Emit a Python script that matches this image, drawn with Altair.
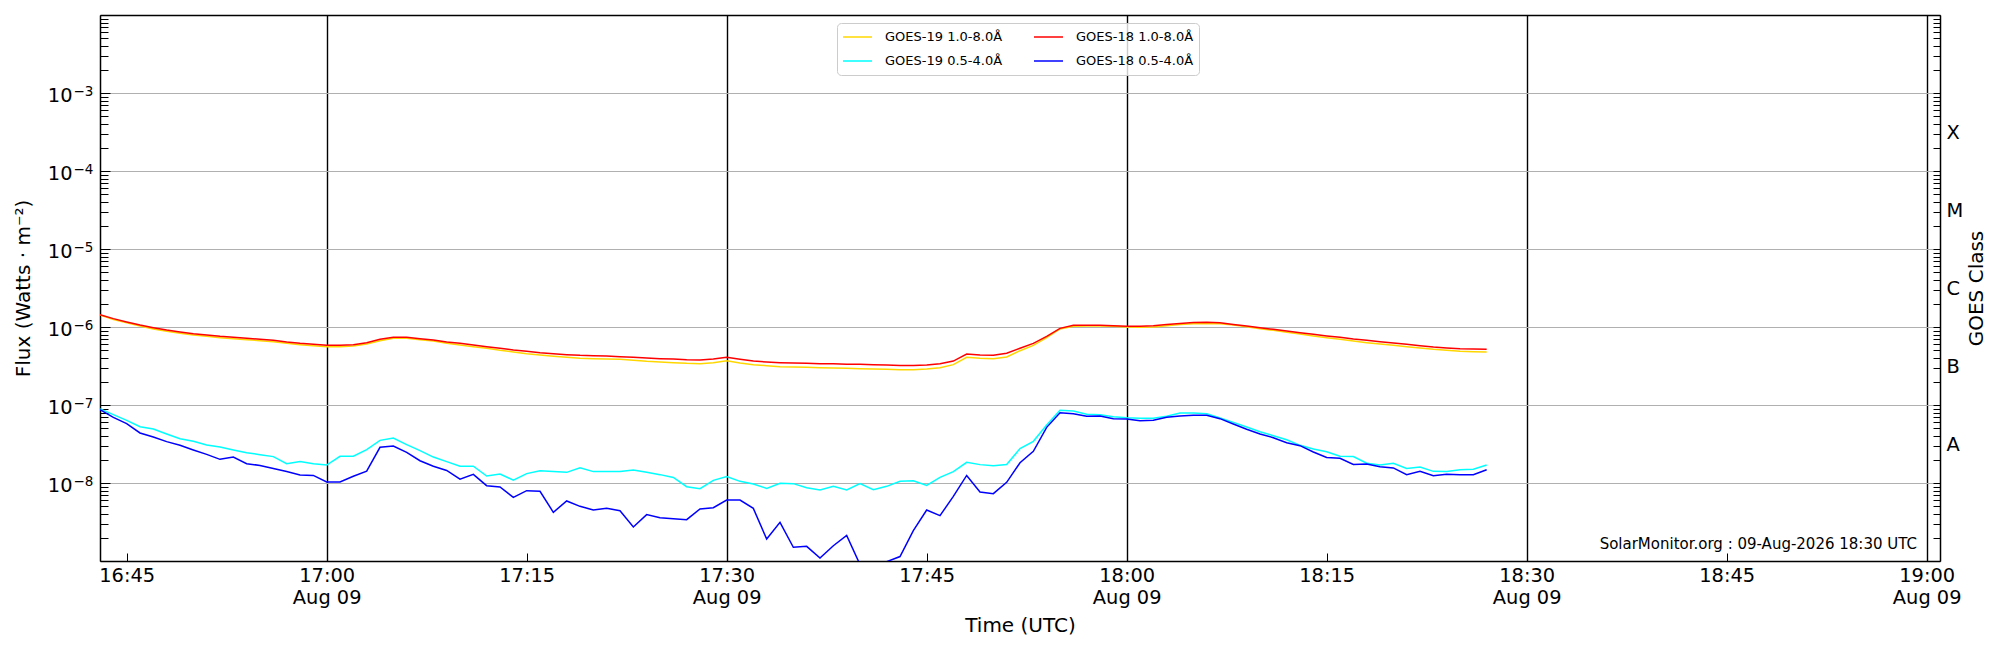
import json
import altair as alt
import pandas as pd

# ---------------- data (1-minute cadence, 16:43 .. 18:27 UTC) ----------------
times = pd.date_range("2026-08-09 16:43:00", periods=105, freq="min").strftime("%Y-%m-%dT%H:%M:%SZ").tolist()

goes19_long = [
    1.43e-6, 1.25e-6, 1.13e-6, 1.03e-6, 9.43e-7, 8.80e-7, 8.29e-7, 7.90e-7, 7.59e-7, 7.30e-7,
    7.08e-7, 6.88e-7, 6.68e-7, 6.49e-7, 6.17e-7, 5.94e-7, 5.76e-7, 5.60e-7, 5.60e-7, 5.71e-7,
    6.05e-7, 6.68e-7, 7.16e-7, 7.16e-7, 6.88e-7, 6.61e-7, 6.17e-7, 5.88e-7, 5.60e-7, 5.33e-7,
    5.02e-7, 4.78e-7, 4.55e-7, 4.38e-7, 4.21e-7, 4.08e-7, 3.97e-7, 3.93e-7, 3.89e-7, 3.85e-7,
    3.74e-7, 3.63e-7, 3.56e-7, 3.49e-7, 3.42e-7, 3.39e-7, 3.49e-7, 3.70e-7, 3.45e-7, 3.29e-7,
    3.19e-7, 3.10e-7, 3.07e-7, 3.04e-7, 3.01e-7, 2.98e-7, 2.95e-7, 2.92e-7, 2.89e-7, 2.87e-7,
    2.84e-7, 2.84e-7, 2.89e-7, 3.01e-7, 3.29e-7, 4.08e-7, 3.97e-7, 3.93e-7, 4.12e-7, 4.97e-7,
    5.82e-7, 7.30e-7, 9.43e-7, 1.02e-6, 1.03e-6, 1.03e-6, 1.02e-6, 1.00e-6, 9.90e-7, 1.00e-6,
    1.04e-6, 1.08e-6, 1.10e-6, 1.11e-6, 1.10e-6, 1.06e-6, 1.01e-6, 9.52e-7, 9.06e-7, 8.54e-7,
    8.13e-7, 7.67e-7, 7.30e-7, 6.95e-7, 6.61e-7, 6.30e-7, 6.05e-7, 5.82e-7, 5.60e-7, 5.38e-7,
    5.17e-7, 5.02e-7, 4.88e-7, 4.83e-7, 4.78e-7,
]

goes18_long = [
    1.44e-6, 1.28e-6, 1.16e-6, 1.06e-6, 9.81e-7, 9.15e-7, 8.63e-7, 8.21e-7, 7.90e-7, 7.59e-7,
    7.37e-7, 7.16e-7, 6.95e-7, 6.75e-7, 6.42e-7, 6.17e-7, 5.99e-7, 5.82e-7, 5.82e-7, 5.94e-7,
    6.30e-7, 6.95e-7, 7.37e-7, 7.37e-7, 7.08e-7, 6.81e-7, 6.42e-7, 6.17e-7, 5.88e-7, 5.60e-7,
    5.33e-7, 5.07e-7, 4.88e-7, 4.69e-7, 4.55e-7, 4.42e-7, 4.33e-7, 4.29e-7, 4.25e-7, 4.17e-7,
    4.08e-7, 4.00e-7, 3.93e-7, 3.89e-7, 3.81e-7, 3.77e-7, 3.89e-7, 4.08e-7, 3.85e-7, 3.66e-7,
    3.56e-7, 3.49e-7, 3.45e-7, 3.42e-7, 3.39e-7, 3.39e-7, 3.32e-7, 3.32e-7, 3.29e-7, 3.26e-7,
    3.22e-7, 3.22e-7, 3.26e-7, 3.39e-7, 3.66e-7, 4.51e-7, 4.38e-7, 4.33e-7, 4.60e-7, 5.33e-7,
    6.17e-7, 7.59e-7, 9.61e-7, 1.05e-6, 1.05e-6, 1.05e-6, 1.04e-6, 1.02e-6, 1.02e-6, 1.04e-6,
    1.08e-6, 1.11e-6, 1.14e-6, 1.15e-6, 1.13e-6, 1.08e-6, 1.03e-6, 9.81e-7, 9.33e-7, 8.89e-7,
    8.46e-7, 8.05e-7, 7.67e-7, 7.37e-7, 7.02e-7, 6.75e-7, 6.49e-7, 6.24e-7, 5.99e-7, 5.76e-7,
    5.54e-7, 5.38e-7, 5.27e-7, 5.22e-7, 5.17e-7,
]

goes19_short = [
    8.89e-8, 7.52e-8, 6.36e-8, 5.27e-8, 4.92e-8, 4.25e-8, 3.70e-8, 3.42e-8, 3.07e-8, 2.89e-8,
    2.65e-8, 2.45e-8, 2.31e-8, 2.18e-8, 1.77e-8, 1.88e-8, 1.77e-8, 1.70e-8, 2.20e-8, 2.20e-8,
    2.68e-8, 3.52e-8, 3.77e-8, 3.10e-8, 2.60e-8, 2.15e-8, 1.88e-8, 1.64e-8, 1.64e-8, 1.23e-8,
    1.30e-8, 1.09e-8, 1.32e-8, 1.44e-8, 1.40e-8, 1.37e-8, 1.57e-8, 1.40e-8, 1.40e-8, 1.40e-8,
    1.47e-8, 1.37e-8, 1.28e-8, 1.18e-8, 8.97e-9, 8.46e-9, 1.08e-8, 1.21e-8, 1.05e-8, 9.71e-9,
    8.54e-9, 9.90e-9, 9.81e-9, 8.71e-9, 8.13e-9, 9.06e-9, 8.13e-9, 9.81e-9, 8.21e-9, 9.06e-9,
    1.05e-8, 1.07e-8, 9.33e-9, 1.18e-8, 1.40e-8, 1.84e-8, 1.72e-8, 1.67e-8, 1.73e-8, 2.76e-8,
    3.42e-8, 5.54e-8, 8.54e-8, 8.38e-8, 7.59e-8, 7.52e-8, 7.08e-8, 6.88e-8, 6.75e-8, 6.75e-8,
    7.16e-8, 7.90e-8, 7.90e-8, 7.74e-8, 6.81e-8, 5.99e-8, 5.22e-8, 4.55e-8, 4.04e-8, 3.59e-8,
    3.04e-8, 2.73e-8, 2.52e-8, 2.20e-8, 2.18e-8, 1.79e-8, 1.70e-8, 1.79e-8, 1.54e-8, 1.60e-8,
    1.41e-8, 1.40e-8, 1.48e-8, 1.50e-8, 1.70e-8,
]

goes18_short = [
    8.71e-8, 6.95e-8, 5.76e-8, 4.38e-8, 3.89e-8, 3.39e-8, 3.04e-8, 2.65e-8, 2.33e-8, 2.01e-8,
    2.15e-8, 1.77e-8, 1.68e-8, 1.53e-8, 1.40e-8, 1.27e-8, 1.25e-8, 1.03e-8, 1.03e-8, 1.22e-8,
    1.42e-8, 2.87e-8, 2.98e-8, 2.47e-8, 1.93e-8, 1.64e-8, 1.45e-8, 1.12e-8, 1.29e-8, 9.24e-9,
    8.89e-9, 6.55e-9, 7.97e-9, 7.82e-9, 4.21e-9, 5.88e-9, 5.02e-9, 4.51e-9, 4.73e-9, 4.42e-9,
    2.73e-9, 3.93e-9, 3.59e-9, 3.49e-9, 3.39e-9, 4.64e-9, 4.83e-9, 6.05e-9, 6.05e-9, 4.73e-9,
    1.91e-9, 3.13e-9, 1.50e-9, 1.54e-9, 1.09e-9, 1.57e-9, 2.13e-9, 9.0e-10, 8.5e-10, 9.8e-10,
    1.14e-9, 2.45e-9, 4.51e-9, 3.81e-9, 6.75e-9, 1.25e-8, 7.67e-9, 7.30e-9, 1.02e-8, 1.82e-8,
    2.55e-8, 5.17e-8, 7.97e-8, 7.74e-8, 7.16e-8, 7.23e-8, 6.68e-8, 6.61e-8, 6.30e-8, 6.36e-8,
    6.95e-8, 7.23e-8, 7.37e-8, 7.37e-8, 6.68e-8, 5.71e-8, 4.88e-8, 4.25e-8, 3.81e-8, 3.29e-8,
    3.01e-8, 2.50e-8, 2.13e-8, 2.07e-8, 1.73e-8, 1.75e-8, 1.62e-8, 1.56e-8, 1.28e-8, 1.41e-8,
    1.24e-8, 1.29e-8, 1.28e-8, 1.28e-8, 1.48e-8,
]

# legend order (row-major, 2 columns) and colours
series_names = ["GOES-19 1.0-8.0Å", "GOES-19 0.5-4.0Å", "GOES-18 1.0-8.0Å", "GOES-18 0.5-4.0Å"]
series_colors = ["#FFD700", "#00FFFF", "#FF0000", "#0000FF"]
series_data = {
    "GOES-19 1.0-8.0Å": goes19_long,
    "GOES-18 1.0-8.0Å": goes18_long,
    "GOES-19 0.5-4.0Å": goes19_short,
    "GOES-18 0.5-4.0Å": goes18_short,
}
draw_order = ["GOES-19 1.0-8.0Å", "GOES-18 1.0-8.0Å", "GOES-19 0.5-4.0Å", "GOES-18 0.5-4.0Å"]

# tick values / labels
x_tick_times = ["16:45", "17:00", "17:15", "17:30", "17:45", "18:00", "18:15", "18:30", "18:45", "19:00"]
x_tick_dates = ["", "Aug 09", "", "Aug 09", "", "Aug 09", "", "Aug 09", "", "Aug 09"]
flux_tick_values = [1e-8, 1e-7, 1e-6, 1e-5, 1e-4, 1e-3]
flux_tick_base = "10"
flux_tick_exponents = ["−8", "−7", "−6", "−5", "−4", "−3"]
class_labels = ["A", "B", "C", "M", "X"]
class_values = [10 ** -7.5, 10 ** -6.5, 10 ** -5.5, 10 ** -4.5, 10 ** -3.5]
note_text = "SolarMonitor.org : 09-Aug-2026 18:30 UTC"

# ---------------- build ----------------
rows = []
for name in draw_order:
    for t, v in zip(times, series_data[name]):
        rows.append({"time": t, "flux": v, "series": name})
df = pd.DataFrame(rows)


def ms(hhmm):
    return int(pd.Timestamp(f"2026-08-09 {hhmm}:00", tz="UTC").value // 10**6)


x_tick_values = [ms(t) for t in x_tick_times]
half_hour_values = [ms(t) for t, d in zip(x_tick_times, x_tick_dates) if d]
quarter_values = [ms(t) for t, d in zip(x_tick_times, x_tick_dates) if not d]
x_label_list = [[t, d] if d else t for t, d in zip(x_tick_times, x_tick_dates)]
x_label_expr = f"{json.dumps(x_label_list, ensure_ascii=False)}[round((datum.value - {x_tick_values[0]}) / 900000)]"
exp_label_expr = f"{json.dumps(flux_tick_exponents, ensure_ascii=False)}[round(log(datum.value) / LN10) + 8]"
class_label_expr = f"{json.dumps(class_labels)}[floor(log(datum.value) / LN10) + 8]"

decades = [10.0 ** e for e in range(-9, -1)]
minor_ticks = [m * 10.0 ** e for e in range(-9, -2) for m in range(2, 10)]
all_ticks = decades + minor_ticks

W, H = 1840, 546
FONT = "DejaVu Sans"
FRAME = dict(domain=True, domainColor="black", domainWidth=1.5, domainOpacity=1)

x_scale = alt.Scale(type="utc", domain=[ms("16:43"), ms("19:01")])
y_scale = alt.Scale(type="log", domain=[1e-9, 1e-2])

base = alt.Chart(df)
hidden = base.mark_line(opacity=0)

# labels + horizontal grid (+ bottom and left frame lines)
layer_labels = hidden.encode(
    x=alt.X("time:T", scale=x_scale, axis=alt.Axis(
        orient="bottom", values=x_tick_values, labelExpr=x_label_expr, ticks=False, tickSize=0,
        grid=False, labelPadding=5, labelFontSize=19.4, labelLineHeight=22,
        labelFlush=False, labelOverlap=False, labelAlign="center",
        title="Time (UTC)", titleX=W / 2, titleY=64, titleAlign="center", titleBaseline="middle",
        titleFontSize=20, titleFontWeight="normal", **FRAME)),
    y=alt.Y("flux:Q", scale=y_scale, axis=alt.Axis(
        orient="left", values=flux_tick_values, labelExpr=f"'{flux_tick_base}'", ticks=False,
        tickSize=0, grid=True, gridColor="#b0b0b0", gridWidth=1, gridOpacity=1, labelPadding=28,
        labelFontSize=19.4, labelBaseline="alphabetic", labelOffset=8, labelOverlap=False,
        labelFlush=False,
        title="Flux (Watts · m⁻²)", titleX=-77, titleY=H / 2, titleAngle=270, titleAlign="center",
        titleBaseline="middle", titleFontSize=20, titleFontWeight="normal", **FRAME)),
)

# superscript exponents of the left labels
layer_exponents = hidden.encode(
    x=alt.X("time:T", scale=x_scale, axis=None),
    y=alt.Y("flux:Q", scale=y_scale, axis=alt.Axis(
        orient="left", values=flux_tick_values, labelExpr=exp_label_expr, ticks=False, tickSize=0,
        grid=False, domain=False, labelPadding=27, labelAlign="left", labelBaseline="alphabetic",
        labelOffset=2, labelFontSize=13.5, labelOverlap=False, labelFlush=False, title=None)),
)

# black half-hour vertical lines + left major inward ticks
layer_major = hidden.encode(
    x=alt.X("time:T", scale=x_scale, axis=alt.Axis(
        orient="bottom", values=half_hour_values, grid=True, gridColor="black", gridWidth=1.4,
        gridOpacity=1, ticks=False, labels=False, domain=False, title=None)),
    y=alt.Y("flux:Q", scale=y_scale, axis=alt.Axis(
        orient="right", offset=-W, values=decades, ticks=True, tickSize=10, tickWidth=1,
        tickColor="black", labels=False, domain=False, grid=False, title=None)),
)

# bottom inward quarter-hour ticks + left minor inward ticks
layer_minor = hidden.encode(
    x=alt.X("time:T", scale=x_scale, axis=alt.Axis(
        orient="top", offset=-H, values=quarter_values, ticks=True, tickSize=8, tickWidth=1,
        tickColor="black", labels=False, domain=False, grid=False, title=None)),
    y=alt.Y("flux:Q", scale=y_scale, axis=alt.Axis(
        orient="right", offset=-W, values=minor_ticks, ticks=True, tickSize=8, tickWidth=1,
        tickColor="black", labels=False, domain=False, grid=False, title=None)),
)

# right inward ticks (+ top frame line)
layer_right_ticks = hidden.encode(
    x=alt.X("time:T", scale=x_scale, axis=alt.Axis(
        orient="top", values=[], ticks=False, labels=False, grid=False, title=None, **FRAME)),
    y=alt.Y("flux:Q", scale=y_scale, axis=alt.Axis(
        orient="left", offset=-W, values=all_ticks, ticks=True, tickSize=7, tickWidth=1,
        tickColor="black", labels=False, domain=False, grid=False, title=None)),
)

# right GOES class labels (+ right frame line)
layer_right_labels = hidden.encode(
    x=alt.X("time:T", scale=x_scale, axis=None),
    y=alt.Y("flux:Q", scale=y_scale, axis=alt.Axis(
        orient="right", values=class_values, labelExpr=class_label_expr, ticks=False, tickSize=0,
        grid=False, labelPadding=6, labelFontSize=19.4, labelOverlap=False,
        labelFlush=False, title="GOES Class", titleX=36, titleY=H / 2, titleAngle=270,
        titleAlign="center", titleBaseline="middle", titleFontSize=20, titleFontWeight="normal",
        **FRAME)),
)

legend = alt.Legend(
    title=None, orient="none", legendX=737, legendY=8, columns=2, symbolType="stroke",
    symbolSize=841, symbolStrokeWidth=1.5, labelFontSize=13, labelFont=FONT, labelOffset=12,
    columnPadding=30, rowPadding=6, clipHeight=18, padding=5, strokeColor="#cccccc",
    fillColor="rgba(255,255,255,0.8)", cornerRadius=4, labelLimit=300, labelColor="black",
)
color = alt.Color("series:N", scale=alt.Scale(domain=series_names, range=series_colors), legend=legend)

series_layers = [
    base.transform_filter(alt.datum.series == name)
    .mark_line(strokeWidth=1.5, clip=True)
    .encode(
        x=alt.X("time:T", scale=x_scale, axis=None),
        y=alt.Y("flux:Q", scale=y_scale, axis=None),
        color=color,
    )
    for name in draw_order
]

note = alt.Chart(pd.DataFrame({"note": [note_text]})).mark_text(
    align="right", baseline="alphabetic", fontSize=15, font=FONT, color="black"
).encode(x=alt.value(1817), y=alt.value(534), text="note:N")

chart = (
    alt.layer(layer_labels, layer_exponents, layer_major, layer_minor, layer_right_ticks,
              layer_right_labels, *series_layers, note)
    .resolve_axis(x="independent", y="independent")
    .properties(width=W, height=H, padding={"left": 92, "top": 7, "right": 52, "bottom": 75},
                autosize=alt.AutoSizeParams(type="none"), background="white")
    .configure_view(stroke="black", strokeWidth=1.5)
    .configure_axis(labelFont=FONT, titleFont=FONT, labelColor="black", titleColor="black",
                    titleFontWeight="normal", tickColor="black")
    .configure(font=FONT)
)

chart.save("out.html", embed_options={"renderer": "svg", "actions": False})
